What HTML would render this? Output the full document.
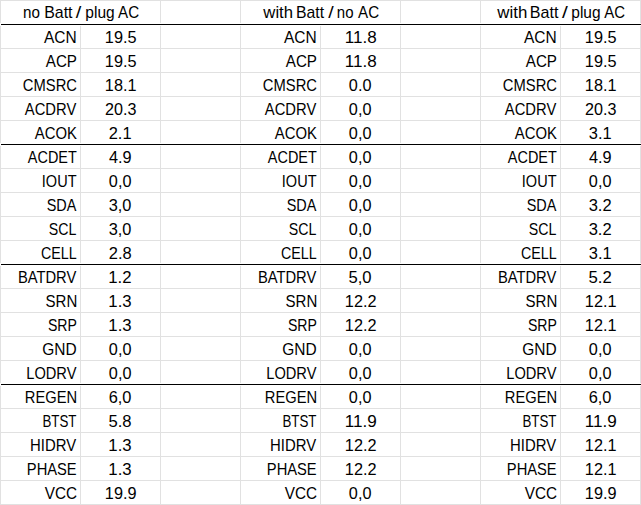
<!DOCTYPE html>
<html><head><meta charset="utf-8"><style>
html,body{margin:0;padding:0;background:#fff;}
body{width:641px;height:505px;position:relative;overflow:hidden;font-family:"Liberation Sans",sans-serif;color:#000;}
div{position:absolute;}
.v{width:1px;background:#e1e1e1;}
.h{left:0;width:641px;height:1px;background:#e1e1e1;}
.k{left:1px;width:640px;height:1px;background:#000;}
.w{width:1px;height:1px;background:#fff;}
.t{height:24px;line-height:24px;font-size:16.2px;white-space:nowrap;}
.t span{display:inline-block;}
.r{text-align:right;}
.r span{transform:scaleX(0.905);transform-origin:100% 50%;}
.c{text-align:center;}
.c span{transform:scaleX(1.0);transform-origin:50% 50%;}
.hd span{transform:scaleX(0.955);}
</style></head><body>

<div class="h" style="top:0px"></div>
<div class="h" style="top:24px"></div>
<div class="h" style="top:48px"></div>
<div class="h" style="top:72px"></div>
<div class="h" style="top:96px"></div>
<div class="h" style="top:120px"></div>
<div class="h" style="top:144px"></div>
<div class="h" style="top:168px"></div>
<div class="h" style="top:192px"></div>
<div class="h" style="top:216px"></div>
<div class="h" style="top:240px"></div>
<div class="h" style="top:264px"></div>
<div class="h" style="top:288px"></div>
<div class="h" style="top:312px"></div>
<div class="h" style="top:336px"></div>
<div class="h" style="top:360px"></div>
<div class="h" style="top:384px"></div>
<div class="h" style="top:408px"></div>
<div class="h" style="top:432px"></div>
<div class="h" style="top:456px"></div>
<div class="h" style="top:480px"></div>
<div class="h" style="top:504px"></div>
<div class="v" style="left:0px;top:0;height:505px"></div>
<div class="v" style="left:80px;top:24px;height:481px"></div>
<div class="v" style="left:160px;top:0;height:505px"></div>
<div class="v" style="left:240px;top:0;height:505px"></div>
<div class="v" style="left:320px;top:24px;height:481px"></div>
<div class="v" style="left:400px;top:0;height:505px"></div>
<div class="v" style="left:480px;top:0;height:505px"></div>
<div class="v" style="left:560px;top:24px;height:481px"></div>
<div class="v" style="left:640px;top:0;height:505px"></div>
<div class="w" style="left:0px;top:23px"></div><div class="w" style="left:0px;top:25px"></div>
<div class="w" style="left:80px;top:23px"></div><div class="w" style="left:80px;top:25px"></div>
<div class="w" style="left:160px;top:23px"></div><div class="w" style="left:160px;top:25px"></div>
<div class="w" style="left:240px;top:23px"></div><div class="w" style="left:240px;top:25px"></div>
<div class="w" style="left:320px;top:23px"></div><div class="w" style="left:320px;top:25px"></div>
<div class="w" style="left:400px;top:23px"></div><div class="w" style="left:400px;top:25px"></div>
<div class="w" style="left:480px;top:23px"></div><div class="w" style="left:480px;top:25px"></div>
<div class="w" style="left:560px;top:23px"></div><div class="w" style="left:560px;top:25px"></div>
<div class="w" style="left:640px;top:23px"></div><div class="w" style="left:640px;top:25px"></div>
<div class="w" style="left:0;top:24px"></div>
<div class="k" style="top:24px"></div>
<div class="w" style="left:0px;top:143px"></div><div class="w" style="left:0px;top:145px"></div>
<div class="w" style="left:80px;top:143px"></div><div class="w" style="left:80px;top:145px"></div>
<div class="w" style="left:160px;top:143px"></div><div class="w" style="left:160px;top:145px"></div>
<div class="w" style="left:240px;top:143px"></div><div class="w" style="left:240px;top:145px"></div>
<div class="w" style="left:320px;top:143px"></div><div class="w" style="left:320px;top:145px"></div>
<div class="w" style="left:400px;top:143px"></div><div class="w" style="left:400px;top:145px"></div>
<div class="w" style="left:480px;top:143px"></div><div class="w" style="left:480px;top:145px"></div>
<div class="w" style="left:560px;top:143px"></div><div class="w" style="left:560px;top:145px"></div>
<div class="w" style="left:640px;top:143px"></div><div class="w" style="left:640px;top:145px"></div>
<div class="w" style="left:0;top:144px"></div>
<div class="k" style="top:144px"></div>
<div class="w" style="left:0px;top:263px"></div><div class="w" style="left:0px;top:265px"></div>
<div class="w" style="left:80px;top:263px"></div><div class="w" style="left:80px;top:265px"></div>
<div class="w" style="left:160px;top:263px"></div><div class="w" style="left:160px;top:265px"></div>
<div class="w" style="left:240px;top:263px"></div><div class="w" style="left:240px;top:265px"></div>
<div class="w" style="left:320px;top:263px"></div><div class="w" style="left:320px;top:265px"></div>
<div class="w" style="left:400px;top:263px"></div><div class="w" style="left:400px;top:265px"></div>
<div class="w" style="left:480px;top:263px"></div><div class="w" style="left:480px;top:265px"></div>
<div class="w" style="left:560px;top:263px"></div><div class="w" style="left:560px;top:265px"></div>
<div class="w" style="left:640px;top:263px"></div><div class="w" style="left:640px;top:265px"></div>
<div class="w" style="left:0;top:264px"></div>
<div class="k" style="top:264px"></div>
<div class="w" style="left:0px;top:383px"></div><div class="w" style="left:0px;top:385px"></div>
<div class="w" style="left:80px;top:383px"></div><div class="w" style="left:80px;top:385px"></div>
<div class="w" style="left:160px;top:383px"></div><div class="w" style="left:160px;top:385px"></div>
<div class="w" style="left:240px;top:383px"></div><div class="w" style="left:240px;top:385px"></div>
<div class="w" style="left:320px;top:383px"></div><div class="w" style="left:320px;top:385px"></div>
<div class="w" style="left:400px;top:383px"></div><div class="w" style="left:400px;top:385px"></div>
<div class="w" style="left:480px;top:383px"></div><div class="w" style="left:480px;top:385px"></div>
<div class="w" style="left:560px;top:383px"></div><div class="w" style="left:560px;top:385px"></div>
<div class="w" style="left:640px;top:383px"></div><div class="w" style="left:640px;top:385px"></div>
<div class="w" style="left:0;top:384px"></div>
<div class="k" style="top:384px"></div>
<div class="t" style="left:23.75px;top:0px"><span style="transform:translateX(-0.985px) scaleX(0.9389);transform-origin:0 50%">no</span></div>
<div class="t" style="left:45.1px;top:0px"><span style="transform:translateX(-0.808px) scaleX(0.9838);transform-origin:0 50%">Batt</span></div>
<div class="t" style="left:75.7px;top:0px"><span style="transform:translateX(-0.222px) scaleX(1.2258);transform-origin:0 50%">/</span></div>
<div class="t" style="left:86.1px;top:0px"><span style="transform:translateX(-0.652px) scaleX(0.9591);transform-origin:0 50%">plug</span></div>
<div class="t" style="left:117.9px;top:0px"><span style="transform:translateX(0.088px) scaleX(0.9354);transform-origin:0 50%">AC</span></div>
<div class="t" style="left:263.3px;top:0px"><span style="transform:translateX(0.339px) scaleX(1.0316);transform-origin:0 50%">with</span></div>
<div class="t" style="left:297.0px;top:0px"><span style="transform:translateX(-1.027px) scaleX(0.9757);transform-origin:0 50%">Batt</span></div>
<div class="t" style="left:328.2px;top:0px"><span style="transform:translateX(0.203px) scaleX(1.2079);transform-origin:0 50%">/</span></div>
<div class="t" style="left:337.6px;top:0px"><span style="transform:translateX(-1.179px) scaleX(0.9282);transform-origin:0 50%">no</span></div>
<div class="t" style="left:357.9px;top:0px"><span style="transform:translateX(0.088px) scaleX(0.9354);transform-origin:0 50%">AC</span></div>
<div class="t" style="left:497.3px;top:0px"><span style="transform:translateX(0.337px) scaleX(1.0411);transform-origin:0 50%">with</span></div>
<div class="t" style="left:530.6px;top:0px"><span style="transform:translateX(-1.275px) scaleX(0.9944);transform-origin:0 50%">Batt</span></div>
<div class="t" style="left:561.2px;top:0px"><span style="transform:translateX(0.878px) scaleX(1.2919);transform-origin:0 50%">/</span></div>
<div class="t" style="left:571.9px;top:0px"><span style="transform:translateX(-0.73px) scaleX(0.9569);transform-origin:0 50%">plug</span></div>
<div class="t" style="left:604.2px;top:0px"><span style="transform:translateX(0.357px) scaleX(0.9243);transform-origin:0 50%">AC</span></div>
<div class="t r" style="left:0px;top:25px;width:77px"><span style="transform:translateX(-0.565px) scaleX(0.9568)">ACN</span></div>
<div class="t c" style="left:80px;top:25px;width:80px"><span style="transform:translateX(0.94px) scaleX(1.0045)">19.5</span></div>
<div class="t r" style="left:0px;top:49px;width:77px"><span style="transform:translateX(-0.311px) scaleX(0.9371)">ACP</span></div>
<div class="t c" style="left:80px;top:49px;width:80px"><span style="transform:translateX(0.94px) scaleX(1.0045)">19.5</span></div>
<div class="t r" style="left:0px;top:73px;width:77px"><span style="transform:translateX(-0.406px) scaleX(0.9119)">CMSRC</span></div>
<div class="t c" style="left:80px;top:73px;width:80px"><span style="transform:translateX(0.938px) scaleX(1.0043)">18.1</span></div>
<div class="t r" style="left:0px;top:97px;width:77px"><span style="transform:translateX(-1.142px) scaleX(0.9121)">ACDRV</span></div>
<div class="t c" style="left:80px;top:97px;width:80px"><span style="transform:translateX(1.064px) scaleX(0.9962)">20.3</span></div>
<div class="t r" style="left:0px;top:121px;width:77px"><span style="transform:translateX(0.153px) scaleX(0.9194)">ACOK</span></div>
<div class="t c" style="left:80px;top:121px;width:80px"><span style="transform:translateX(-0.156px) scaleX(1.0148)">2.1</span></div>
<div class="t r" style="left:0px;top:145px;width:77px"><span style="transform:translateX(-0.131px) scaleX(0.8908)">ACDET</span></div>
<div class="t c" style="left:80px;top:145px;width:80px"><span style="transform:translateX(0.091px) scaleX(1.0036)">4.9</span></div>
<div class="t r" style="left:0px;top:169px;width:77px"><span style="transform:translateX(-0.123px) scaleX(0.8976)">IOUT</span></div>
<div class="t c" style="left:80px;top:169px;width:80px"><span style="transform:translateX(-0.093px) scaleX(1.0034)">0,0</span></div>
<div class="t r" style="left:0px;top:193px;width:77px"><span style="transform:translateX(-0.948px) scaleX(0.8897)">SDA</span></div>
<div class="t c" style="left:80px;top:193px;width:80px"><span style="transform:translateX(-0.154px) scaleX(1.0091)">3,0</span></div>
<div class="t r" style="left:0px;top:217px;width:77px"><span style="transform:translateX(-1.112px) scaleX(0.8747)">SCL</span></div>
<div class="t c" style="left:80px;top:217px;width:80px"><span style="transform:translateX(-0.154px) scaleX(1.0091)">3,0</span></div>
<div class="t r" style="left:0px;top:241px;width:77px"><span style="transform:translateX(-0.869px) scaleX(0.8821)">CELL</span></div>
<div class="t c" style="left:80px;top:241px;width:80px"><span style="transform:translateX(-0.061px) scaleX(1.0177)">2.8</span></div>
<div class="t r" style="left:0px;top:265px;width:77px"><span style="transform:translateX(-0.831px) scaleX(0.9108)">BATDRV</span></div>
<div class="t c" style="left:80px;top:265px;width:80px"><span style="transform:translateX(-0.316px) scaleX(1.0352)">1.2</span></div>
<div class="t r" style="left:0px;top:289px;width:77px"><span style="transform:translateX(0.091px) scaleX(0.9283)">SRN</span></div>
<div class="t c" style="left:80px;top:289px;width:80px"><span style="transform:translateX(-0.254px) scaleX(1.0356)">1.3</span></div>
<div class="t r" style="left:0px;top:313px;width:77px"><span style="transform:translateX(-0.421px) scaleX(0.8701)">SRP</span></div>
<div class="t c" style="left:80px;top:313px;width:80px"><span style="transform:translateX(-0.254px) scaleX(1.0356)">1.3</span></div>
<div class="t r" style="left:0px;top:337px;width:77px"><span style="transform:translateX(-0.422px) scaleX(0.9559)">GND</span></div>
<div class="t c" style="left:80px;top:337px;width:80px"><span style="transform:translateX(-0.093px) scaleX(1.0034)">0,0</span></div>
<div class="t r" style="left:0px;top:361px;width:77px"><span style="transform:translateX(-1.086px) scaleX(0.9039)">LODRV</span></div>
<div class="t c" style="left:80px;top:361px;width:80px"><span style="transform:translateX(-0.093px) scaleX(1.0034)">0,0</span></div>
<div class="t r" style="left:0px;top:385px;width:77px"><span style="transform:translateX(0.523px) scaleX(0.9083)">REGEN</span></div>
<div class="t c" style="left:80px;top:385px;width:80px"><span style="transform:translateX(-0.185px) scaleX(1.0119)">6,0</span></div>
<div class="t r" style="left:0px;top:409px;width:77px"><span style="transform:translateX(-0.943px) scaleX(0.8226)">BTST</span></div>
<div class="t c" style="left:80px;top:409px;width:80px"><span style="transform:translateX(-0.279px) scaleX(1.0264)">5.8</span></div>
<div class="t r" style="left:0px;top:433px;width:77px"><span style="transform:translateX(-0.888px) scaleX(0.92)">HIDRV</span></div>
<div class="t c" style="left:80px;top:433px;width:80px"><span style="transform:translateX(-0.254px) scaleX(1.0356)">1.3</span></div>
<div class="t r" style="left:0px;top:457px;width:77px"><span style="transform:translateX(-0.236px) scaleX(0.9071)">PHASE</span></div>
<div class="t c" style="left:80px;top:457px;width:80px"><span style="transform:translateX(-0.254px) scaleX(1.0356)">1.3</span></div>
<div class="t r" style="left:0px;top:481px;width:77px"><span style="transform:translateX(-0.135px) scaleX(0.9449)">VCC</span></div>
<div class="t c" style="left:80px;top:481px;width:80px"><span style="transform:translateX(0.938px) scaleX(1.0043)">19.9</span></div>
<div class="t r" style="left:240px;top:25px;width:77px"><span style="transform:translateX(-0.565px) scaleX(0.9568)">ACN</span></div>
<div class="t c" style="left:320px;top:25px;width:80px"><span style="transform:translateX(0.522px) scaleX(1.0532)">11.8</span></div>
<div class="t r" style="left:240px;top:49px;width:77px"><span style="transform:translateX(-0.311px) scaleX(0.9371)">ACP</span></div>
<div class="t c" style="left:320px;top:49px;width:80px"><span style="transform:translateX(0.522px) scaleX(1.0532)">11.8</span></div>
<div class="t r" style="left:240px;top:73px;width:77px"><span style="transform:translateX(-0.406px) scaleX(0.9119)">CMSRC</span></div>
<div class="t c" style="left:320px;top:73px;width:80px"><span style="transform:translateX(-0.093px) scaleX(1.0034)">0.0</span></div>
<div class="t r" style="left:240px;top:97px;width:77px"><span style="transform:translateX(-1.142px) scaleX(0.9121)">ACDRV</span></div>
<div class="t c" style="left:320px;top:97px;width:80px"><span style="transform:translateX(-0.093px) scaleX(1.0034)">0,0</span></div>
<div class="t r" style="left:240px;top:121px;width:77px"><span style="transform:translateX(0.153px) scaleX(0.9194)">ACOK</span></div>
<div class="t c" style="left:320px;top:121px;width:80px"><span style="transform:translateX(-0.093px) scaleX(1.0034)">0,0</span></div>
<div class="t r" style="left:240px;top:145px;width:77px"><span style="transform:translateX(-0.131px) scaleX(0.8908)">ACDET</span></div>
<div class="t c" style="left:320px;top:145px;width:80px"><span style="transform:translateX(-0.093px) scaleX(1.0034)">0,0</span></div>
<div class="t r" style="left:240px;top:169px;width:77px"><span style="transform:translateX(-0.123px) scaleX(0.8976)">IOUT</span></div>
<div class="t c" style="left:320px;top:169px;width:80px"><span style="transform:translateX(-0.093px) scaleX(1.0034)">0,0</span></div>
<div class="t r" style="left:240px;top:193px;width:77px"><span style="transform:translateX(-0.948px) scaleX(0.8897)">SDA</span></div>
<div class="t c" style="left:320px;top:193px;width:80px"><span style="transform:translateX(-0.093px) scaleX(1.0034)">0,0</span></div>
<div class="t r" style="left:240px;top:217px;width:77px"><span style="transform:translateX(-1.112px) scaleX(0.8747)">SCL</span></div>
<div class="t c" style="left:320px;top:217px;width:80px"><span style="transform:translateX(-0.093px) scaleX(1.0034)">0,0</span></div>
<div class="t r" style="left:240px;top:241px;width:77px"><span style="transform:translateX(-0.869px) scaleX(0.8821)">CELL</span></div>
<div class="t c" style="left:320px;top:241px;width:80px"><span style="transform:translateX(-0.093px) scaleX(1.0034)">0,0</span></div>
<div class="t r" style="left:240px;top:265px;width:77px"><span style="transform:translateX(-0.831px) scaleX(0.9108)">BATDRV</span></div>
<div class="t c" style="left:320px;top:265px;width:80px"><span style="transform:translateX(-0.28px) scaleX(1.0263)">5,0</span></div>
<div class="t r" style="left:240px;top:289px;width:77px"><span style="transform:translateX(0.091px) scaleX(0.9283)">SRN</span></div>
<div class="t c" style="left:320px;top:289px;width:80px"><span style="transform:translateX(0.968px) scaleX(1.0063)">12.2</span></div>
<div class="t r" style="left:240px;top:313px;width:77px"><span style="transform:translateX(-0.421px) scaleX(0.8701)">SRP</span></div>
<div class="t c" style="left:320px;top:313px;width:80px"><span style="transform:translateX(0.968px) scaleX(1.0063)">12.2</span></div>
<div class="t r" style="left:240px;top:337px;width:77px"><span style="transform:translateX(-0.422px) scaleX(0.9559)">GND</span></div>
<div class="t c" style="left:320px;top:337px;width:80px"><span style="transform:translateX(-0.093px) scaleX(1.0034)">0,0</span></div>
<div class="t r" style="left:240px;top:361px;width:77px"><span style="transform:translateX(-1.086px) scaleX(0.9039)">LODRV</span></div>
<div class="t c" style="left:320px;top:361px;width:80px"><span style="transform:translateX(-0.093px) scaleX(1.0034)">0,0</span></div>
<div class="t r" style="left:240px;top:385px;width:77px"><span style="transform:translateX(0.523px) scaleX(0.9083)">REGEN</span></div>
<div class="t c" style="left:320px;top:385px;width:80px"><span style="transform:translateX(-0.093px) scaleX(1.0034)">0,0</span></div>
<div class="t r" style="left:240px;top:409px;width:77px"><span style="transform:translateX(-0.943px) scaleX(0.8226)">BTST</span></div>
<div class="t c" style="left:320px;top:409px;width:80px"><span style="transform:translateX(0.553px) scaleX(1.0556)">11.9</span></div>
<div class="t r" style="left:240px;top:433px;width:77px"><span style="transform:translateX(-0.888px) scaleX(0.92)">HIDRV</span></div>
<div class="t c" style="left:320px;top:433px;width:80px"><span style="transform:translateX(0.968px) scaleX(1.0063)">12.2</span></div>
<div class="t r" style="left:240px;top:457px;width:77px"><span style="transform:translateX(-0.236px) scaleX(0.9071)">PHASE</span></div>
<div class="t c" style="left:320px;top:457px;width:80px"><span style="transform:translateX(0.968px) scaleX(1.0063)">12.2</span></div>
<div class="t r" style="left:240px;top:481px;width:77px"><span style="transform:translateX(-0.135px) scaleX(0.9449)">VCC</span></div>
<div class="t c" style="left:320px;top:481px;width:80px"><span style="transform:translateX(-0.093px) scaleX(1.0034)">0,0</span></div>
<div class="t r" style="left:480px;top:25px;width:77px"><span style="transform:translateX(-0.565px) scaleX(0.9568)">ACN</span></div>
<div class="t c" style="left:560px;top:25px;width:80px"><span style="transform:translateX(0.94px) scaleX(1.0045)">19.5</span></div>
<div class="t r" style="left:480px;top:49px;width:77px"><span style="transform:translateX(-0.311px) scaleX(0.9371)">ACP</span></div>
<div class="t c" style="left:560px;top:49px;width:80px"><span style="transform:translateX(0.94px) scaleX(1.0045)">19.5</span></div>
<div class="t r" style="left:480px;top:73px;width:77px"><span style="transform:translateX(-0.406px) scaleX(0.9119)">CMSRC</span></div>
<div class="t c" style="left:560px;top:73px;width:80px"><span style="transform:translateX(0.938px) scaleX(1.0043)">18.1</span></div>
<div class="t r" style="left:480px;top:97px;width:77px"><span style="transform:translateX(-1.142px) scaleX(0.9121)">ACDRV</span></div>
<div class="t c" style="left:560px;top:97px;width:80px"><span style="transform:translateX(1.064px) scaleX(0.9962)">20.3</span></div>
<div class="t r" style="left:480px;top:121px;width:77px"><span style="transform:translateX(0.153px) scaleX(0.9194)">ACOK</span></div>
<div class="t c" style="left:560px;top:121px;width:80px"><span style="transform:translateX(-0.093px) scaleX(1.0149)">3.1</span></div>
<div class="t r" style="left:480px;top:145px;width:77px"><span style="transform:translateX(-0.131px) scaleX(0.8908)">ACDET</span></div>
<div class="t c" style="left:560px;top:145px;width:80px"><span style="transform:translateX(0.091px) scaleX(1.0036)">4.9</span></div>
<div class="t r" style="left:480px;top:169px;width:77px"><span style="transform:translateX(-0.123px) scaleX(0.8976)">IOUT</span></div>
<div class="t c" style="left:560px;top:169px;width:80px"><span style="transform:translateX(-0.093px) scaleX(1.0034)">0,0</span></div>
<div class="t r" style="left:480px;top:193px;width:77px"><span style="transform:translateX(-0.948px) scaleX(0.8897)">SDA</span></div>
<div class="t c" style="left:560px;top:193px;width:80px"><span style="transform:translateX(-0.094px) scaleX(1.0206)">3.2</span></div>
<div class="t r" style="left:480px;top:217px;width:77px"><span style="transform:translateX(-1.112px) scaleX(0.8747)">SCL</span></div>
<div class="t c" style="left:560px;top:217px;width:80px"><span style="transform:translateX(-0.094px) scaleX(1.0206)">3.2</span></div>
<div class="t r" style="left:480px;top:241px;width:77px"><span style="transform:translateX(-0.869px) scaleX(0.8821)">CELL</span></div>
<div class="t c" style="left:560px;top:241px;width:80px"><span style="transform:translateX(-0.093px) scaleX(1.0149)">3.1</span></div>
<div class="t r" style="left:480px;top:265px;width:77px"><span style="transform:translateX(-0.831px) scaleX(0.9108)">BATDRV</span></div>
<div class="t c" style="left:560px;top:265px;width:80px"><span style="transform:translateX(-0.186px) scaleX(1.0352)">5.2</span></div>
<div class="t r" style="left:480px;top:289px;width:77px"><span style="transform:translateX(0.091px) scaleX(0.9283)">SRN</span></div>
<div class="t c" style="left:560px;top:289px;width:80px"><span style="transform:translateX(0.938px) scaleX(1.0043)">12.1</span></div>
<div class="t r" style="left:480px;top:313px;width:77px"><span style="transform:translateX(-0.421px) scaleX(0.8701)">SRP</span></div>
<div class="t c" style="left:560px;top:313px;width:80px"><span style="transform:translateX(0.938px) scaleX(1.0043)">12.1</span></div>
<div class="t r" style="left:480px;top:337px;width:77px"><span style="transform:translateX(-0.422px) scaleX(0.9559)">GND</span></div>
<div class="t c" style="left:560px;top:337px;width:80px"><span style="transform:translateX(-0.093px) scaleX(1.0034)">0,0</span></div>
<div class="t r" style="left:480px;top:361px;width:77px"><span style="transform:translateX(-1.086px) scaleX(0.9039)">LODRV</span></div>
<div class="t c" style="left:560px;top:361px;width:80px"><span style="transform:translateX(-0.093px) scaleX(1.0034)">0,0</span></div>
<div class="t r" style="left:480px;top:385px;width:77px"><span style="transform:translateX(0.523px) scaleX(0.9083)">REGEN</span></div>
<div class="t c" style="left:560px;top:385px;width:80px"><span style="transform:translateX(-0.185px) scaleX(1.0119)">6,0</span></div>
<div class="t r" style="left:480px;top:409px;width:77px"><span style="transform:translateX(-0.943px) scaleX(0.8226)">BTST</span></div>
<div class="t c" style="left:560px;top:409px;width:80px"><span style="transform:translateX(0.553px) scaleX(1.0556)">11.9</span></div>
<div class="t r" style="left:480px;top:433px;width:77px"><span style="transform:translateX(-0.888px) scaleX(0.92)">HIDRV</span></div>
<div class="t c" style="left:560px;top:433px;width:80px"><span style="transform:translateX(0.938px) scaleX(1.0043)">12.1</span></div>
<div class="t r" style="left:480px;top:457px;width:77px"><span style="transform:translateX(-0.236px) scaleX(0.9071)">PHASE</span></div>
<div class="t c" style="left:560px;top:457px;width:80px"><span style="transform:translateX(0.938px) scaleX(1.0043)">12.1</span></div>
<div class="t r" style="left:480px;top:481px;width:77px"><span style="transform:translateX(-0.135px) scaleX(0.9449)">VCC</span></div>
<div class="t c" style="left:560px;top:481px;width:80px"><span style="transform:translateX(0.938px) scaleX(1.0043)">19.9</span></div>
</body></html>
